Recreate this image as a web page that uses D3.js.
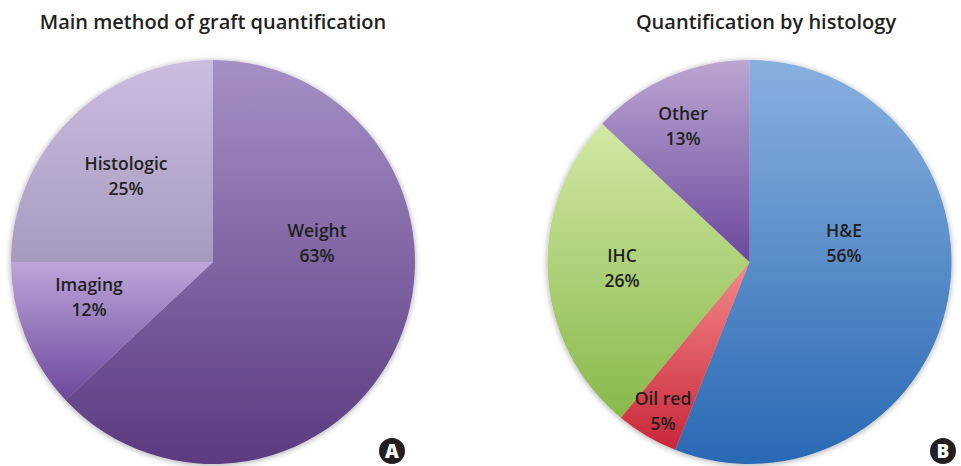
<!DOCTYPE html>
<html>
<head>
<meta charset="utf-8">
<script src="https://cdn.jsdelivr.net/npm/d3@7"></script>
<style>
  body { margin: 0; background: #fff; }
  text { font-family: "Open Sans", "DejaVu Sans", sans-serif; }
</style>
</head>
<body>
<svg id="chart" width="961" height="466"></svg>
<script>
// panel A
var methodLabels = ["Weight", "Imaging", "Histologic"];
var methodValues = [63, 12, 25];
var methodColors = [["#a590c6", "#5a3a80"], ["#bca6da", "#6c489c"], ["#cbbde0", "#a69ac0"]];
var methodLabelPos = [[317, 237], [89, 291], [126, 170]];

// panel B
var histoLabels = ["H&E", "Oil red", "IHC", "Other"];
var histoValues = [56, 5, 26, 13];
var histoColors = [["#88b0de", "#2a69b4"], ["#f28a8a", "#c92638"], ["#d2e8a4", "#88b84a"], ["#bba6d2", "#6a489c"]];
var histoLabelPos = [[844, 237], [663, 405], [622, 262], [683, 120]];

var svg = d3.select("#chart");
var defs = svg.append("defs");

var shadow = defs.append("filter").attr("id", "shadow")
	.attr("x", "-10%").attr("y", "-10%").attr("width", "120%").attr("height", "120%");
shadow.append("feGaussianBlur").attr("in", "SourceAlpha").attr("stdDeviation", 3);
shadow.append("feOffset").attr("dx", 0).attr("dy", 1).attr("result", "blur");
shadow.append("feComponentTransfer").append("feFuncA").attr("type", "linear").attr("slope", 0.35);
var merge = shadow.append("feMerge");
merge.append("feMergeNode");
merge.append("feMergeNode").attr("in", "SourceGraphic");

function drawPie(id, cx, cy, labels, values, colors, labelPos, title, titleX, badge, badgeX) {
	var radius = 202;

	colors.forEach(function (c, i) {
		var g = defs.append("linearGradient").attr("id", id + i)
			.attr("x1", 0).attr("y1", 0).attr("x2", 0).attr("y2", 1);
		g.append("stop").attr("offset", "0%").attr("stop-color", c[0]);
		g.append("stop").attr("offset", "100%").attr("stop-color", c[1]);
	});

	var pie = d3.pie().sort(null).value(function (d) { return d; });
	var arc = d3.arc().innerRadius(0).outerRadius(radius);

	var g = svg.append("g")
		.attr("transform", "translate(" + cx + "," + cy + ")")
		.attr("filter", "url(#shadow)");

	g.selectAll("path")
		.data(pie(values))
		.enter().append("path")
		.attr("d", arc)
		.attr("fill", function (d, i) { return "url(#" + id + i + ")"; });

	var lab = svg.selectAll(".lab-" + id)
		.data(labels)
		.enter().append("text")
		.attr("class", "lab-" + id)
		.attr("text-anchor", "middle")
		.attr("font-size", 17.5)
		.attr("font-weight", 600)
		.attr("fill", "#231f20");
	lab.append("tspan")
		.attr("x", function (d, i) { return labelPos[i][0]; })
		.attr("y", function (d, i) { return labelPos[i][1]; })
		.text(function (d) { return d; });
	lab.append("tspan")
		.attr("x", function (d, i) { return labelPos[i][0]; })
		.attr("dy", 25)
		.text(function (d, i) { return values[i] + "%"; });

	svg.append("text")
		.attr("x", titleX).attr("y", 29)
		.attr("text-anchor", "middle")
		.attr("font-size", 20)
		.attr("font-weight", 600)
		.attr("fill", "#231f20")
		.text(title);

	svg.append("circle").attr("cx", badgeX).attr("cy", 451).attr("r", 13).attr("fill", "#231f20");
	svg.append("text")
		.attr("x", badgeX).attr("y", 458)
		.attr("text-anchor", "middle")
		.attr("font-size", 19)
		.attr("font-weight", 800)
		.attr("fill", "#fff")
		.text(badge);
}

drawPie("a", 213, 262, methodLabels, methodValues, methodColors, methodLabelPos,
	"Main method of graft quantification", 213, "A", 392);
drawPie("b", 749.5, 262, histoLabels, histoValues, histoColors, histoLabelPos,
	"Quantification by histology", 766, "B", 943);
</script>
</body>
</html>
